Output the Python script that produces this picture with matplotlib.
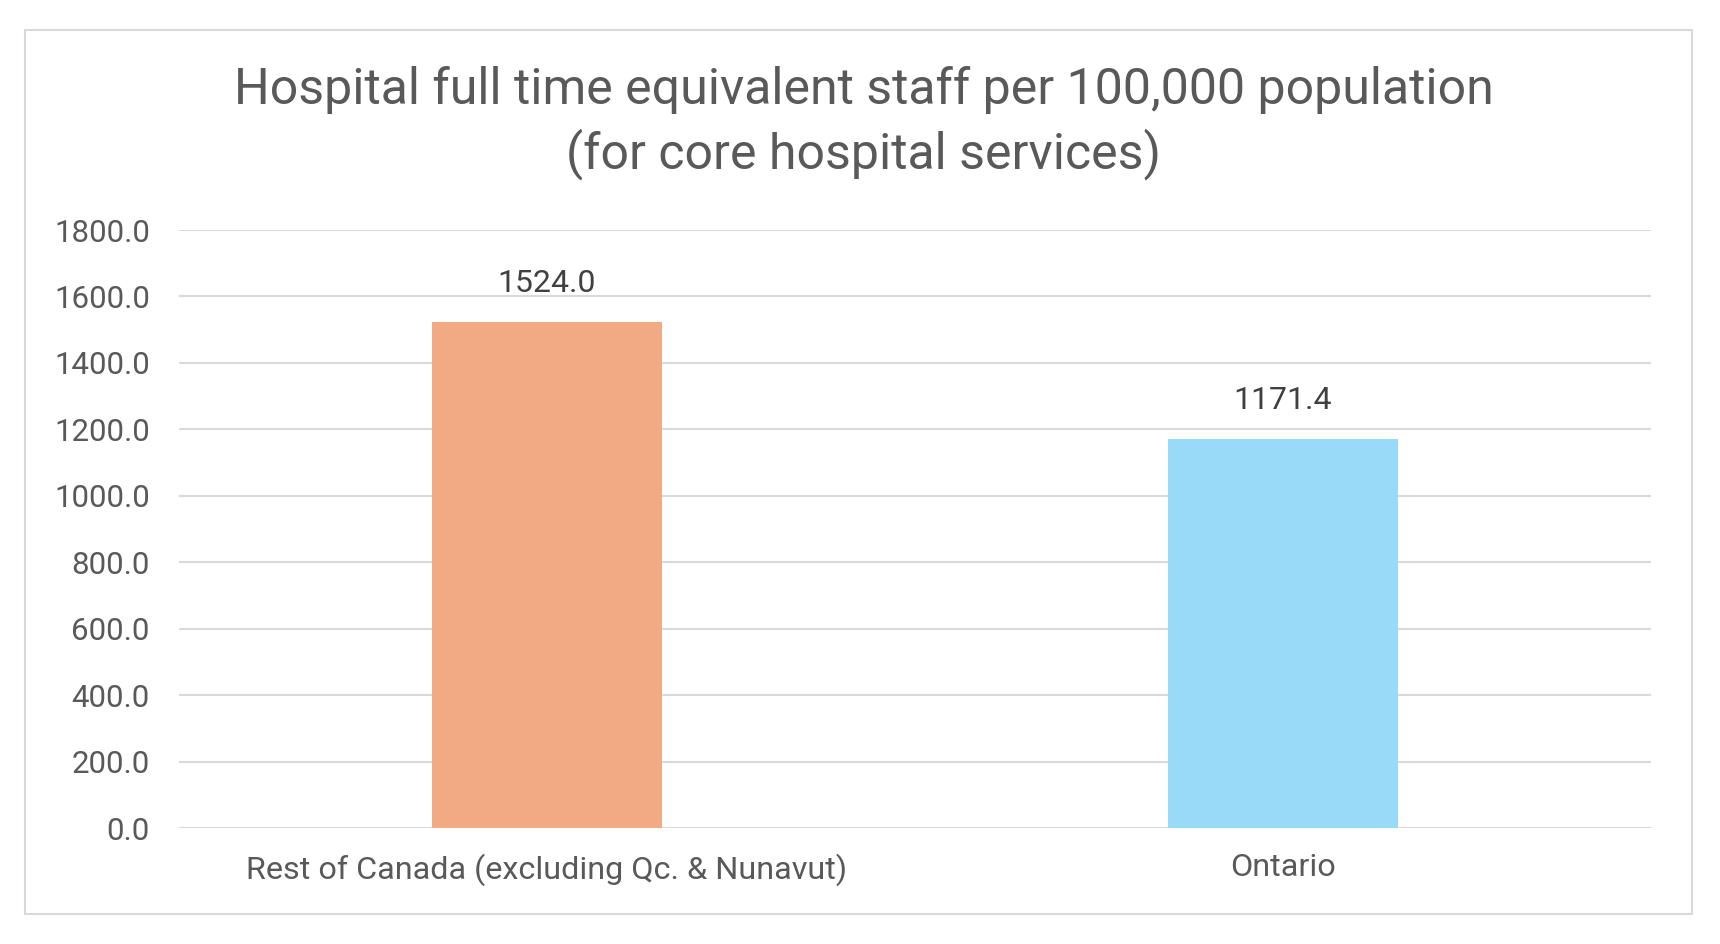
import matplotlib
matplotlib.use("Agg")
import matplotlib.pyplot as plt
from matplotlib.patches import Rectangle

categories = ["Rest of Canada (excluding Qc. & Nunavut)", "Ontario"]
values = [1524.0, 1171.4]
bar_colors = ["#F1AA84", "#98DAF7"]
y_ticks = [0, 200, 400, 600, 800, 1000, 1200, 1400, 1600, 1800]
title = "Hospital full time equivalent staff per 100,000 population\n(for core hospital services)"

plt.rcParams['font.family'] = ['Roboto', 'DejaVu Sans']

fig = plt.figure(figsize=(17.2, 9.44), dpi=100)
fig.patch.set_facecolor("white")

# chart area border
fig.add_artist(Rectangle((25 / 1720, 1 - 914 / 944), 1667 / 1720, 884 / 944,
                         transform=fig.transFigure, fill=False,
                         edgecolor="#D9D9D9", linewidth=1.5))

ax = fig.add_axes([179 / 1720, 1 - 828 / 944, 1472 / 1720, 598 / 944])
x = list(range(len(categories)))
ax.bar(x, values, width=0.3125, color=bar_colors, zorder=3)
ax.set_xlim(-0.5, len(categories) - 0.5)
ax.set_ylim(0, 1800)
ax.set_yticks(y_ticks)
ax.set_yticklabels([f"{v:.1f}" for v in y_ticks])
ax.set_xticks(x)
ax.set_xticklabels(categories)
ax.grid(axis="y", color="#D9D9D9", linewidth=1.5, zorder=0)
for s in ax.spines.values():
    s.set_visible(False)
ax.tick_params(axis="y", length=0, pad=21, labelsize=22.5, labelcolor="#595959")
ax.tick_params(axis="x", length=0, pad=18, labelsize=23.3, labelcolor="#595959")

for xi, v in zip(x, values):
    ax.annotate(f"{v:.1f}", (xi, v), xytext=(0, 17), textcoords="offset points",
                ha="center", va="bottom", fontsize=23, color="#404040")

fig.text(0.502, 1 - 123 / 944, title, ha="center", va="center",
         fontsize=36, color="#595959", linespacing=1.34)

fig.savefig("out.png", dpi=100)
